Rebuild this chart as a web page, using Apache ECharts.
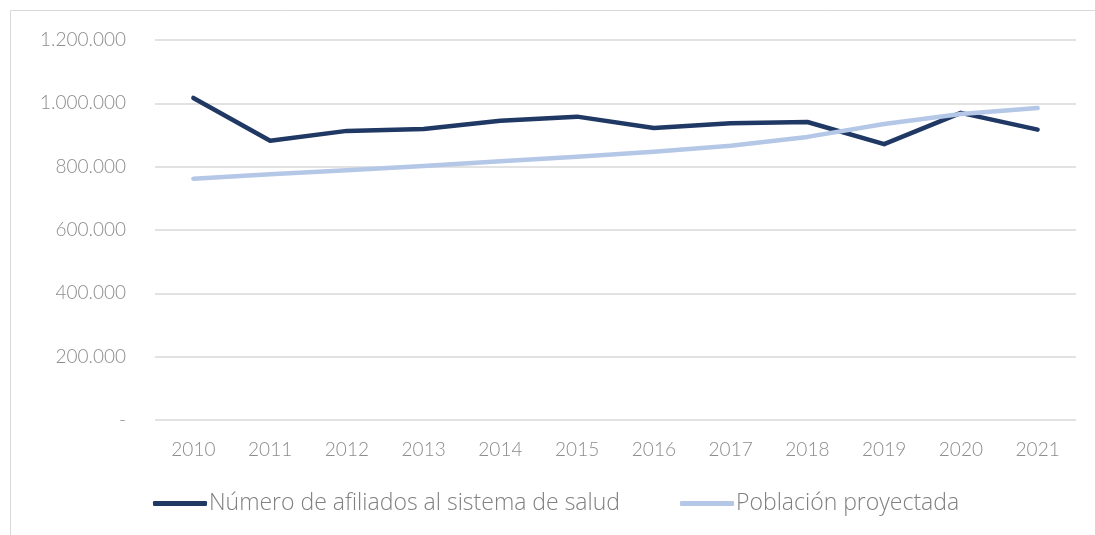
<!DOCTYPE html>
<html>
<head>
<meta charset="utf-8">
<script src="https://cdn.jsdelivr.net/npm/echarts@6/dist/echarts.min.js"></script>
<style>
  html, body { margin: 0; padding: 0; background: #fff; }
  #chart { width: 1095px; height: 535px; }
</style>
</head>
<body>
<div id="chart"></div>
<script>
"use strict";
// años
var years = ["2010", "2011", "2012", "2013", "2014", "2015", "2016", "2017", "2018", "2019", "2020", "2021"];
// afiliados al sistema de salud
var afiliados = [1017000, 882000, 913000, 919000, 945000, 958000, 922000, 937000, 941000, 871000, 970000, 917000];
// población proyectada
var poblacion = [762000, 776000, 789000, 802000, 817000, 831000, 847000, 866000, 894000, 935000, 966000, 985000];
var seriesNames = ["Número de afiliados al sistema de salud", "Población proyectada"];
var yTicks = { min: 0, max: 1200000, interval: 200000 };

function fmtMiles(v) {
    if (v === 0) return "-";
    return String(v).replace(/\B(?=(\d{3})+(?!\d))/g, ".");
}

var myChart = echarts.init(document.getElementById("chart"));
var fontFam = "Lato, 'Open Sans', sans-serif";
var legendBase = {
    bottom: 15,
    itemWidth: 54,
    itemHeight: 5,
    icon: "roundRect",
    textStyle: { fontFamily: "'Open Sans', sans-serif", fontSize: 23, fontWeight: 300, color: "#808080", padding: [0, 0, 0, -3] }
};
var option = {
    animation: false,
    backgroundColor: "#fff",
    graphic: [{
        type: "rect",
        shape: { x: 10.5, y: 10.5, width: 1200, height: 700 },
        style: { fill: "none", stroke: "#d9d9d9", lineWidth: 1 },
        silent: true
    }],
    grid: { left: 155, right: 19, top: 40, bottom: 115 },
    legend: [
        echarts.util.merge({ left: 148, data: [seriesNames[0]] }, legendBase),
        echarts.util.merge({ left: 675, data: [seriesNames[1]] }, legendBase)
    ],
    xAxis: {
        type: "category",
        data: years,
        boundaryGap: true,
        axisLine: { show: false },
        axisTick: { show: false },
        axisLabel: { margin: 20, fontFamily: fontFam, fontSize: 19, fontWeight: 300, color: "#8c8c8c" }
    },
    yAxis: {
        type: "value",
        min: yTicks.min,
        max: yTicks.max,
        interval: yTicks.interval,
        axisLine: { show: false },
        axisTick: { show: false },
        splitLine: { lineStyle: { color: "#d9d9d9", width: 1.5 } },
        axisLabel: {
            margin: 29,
            fontFamily: fontFam, fontSize: 19, fontWeight: 300, color: "#8c8c8c",
            formatter: fmtMiles
        }
    },
    series: [{
        name: seriesNames[0],
        type: "line",
        data: afiliados,
        symbol: "none",
        z: 3,
        itemStyle: { color: "#203864" },
        lineStyle: { color: "#203864", width: 4.5, cap: "round", join: "round" }
    }, {
        name: seriesNames[1],
        type: "line",
        data: poblacion,
        symbol: "none",
        z: 4,
        itemStyle: { color: "#b4c7e7" },
        lineStyle: { color: "#b4c7e7", width: 4.5, cap: "round", join: "round" }
    }]
};
myChart.setOption(option);
</script>
</body>
</html>
